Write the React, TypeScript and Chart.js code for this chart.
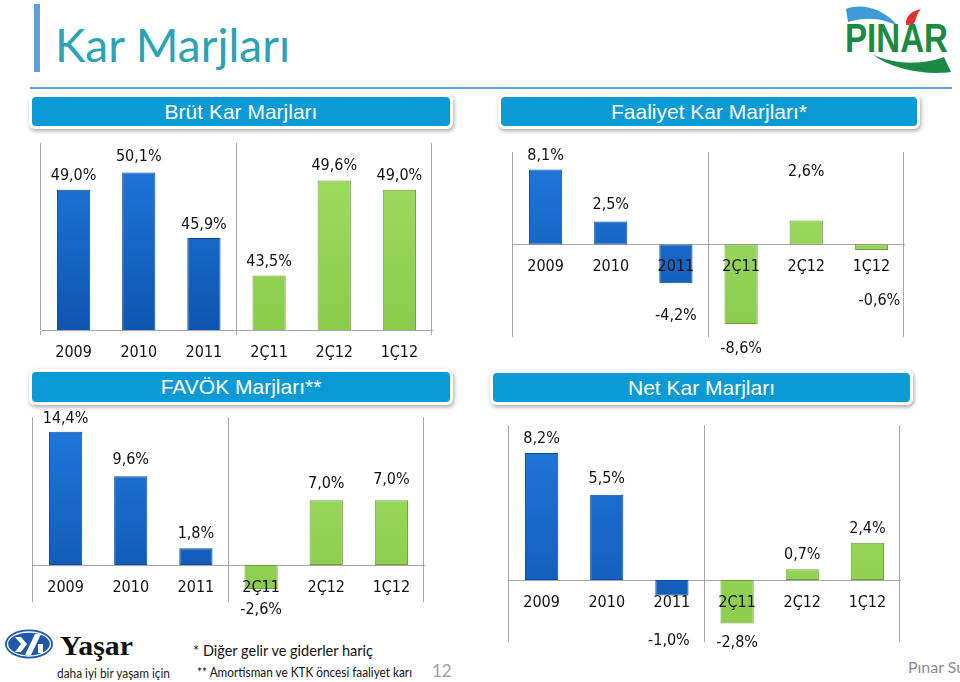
import React, { useEffect, useRef } from 'react';
import { Chart, registerables } from 'chart.js';

Chart.register(...registerables);

// ---------- data ----------
const categories = ['2009', '2010', '2011', '2Ç11', '2Ç12', '1Ç12'];
const brutValues = [49.0, 50.1, 45.9, 43.5, 49.6, 49.0];
const faaliyetValues = [8.1, 2.5, -4.2, -8.6, 2.6, -0.6];
const favokValues = [14.4, 9.6, 1.8, -2.6, 7.0, 7.0];
const netValues = [8.2, 5.5, -1.0, -2.8, 0.7, 2.4];

const brutAxis = [40, 52];
const faaliyetAxis = [-10, 10];
const favokAxis = [-4, 16];
const netAxis = [-4, 10];

const annualCount = 3; // first three categories are years (blue), the rest quarters (green)

// ---------- layout / style ----------
const NUM_FONT = "'Liberation Sans Narrow', 'DejaVu Sans Condensed', Lato, sans-serif";
const brutGaps = [14, 16, 13, 14, 15, 14];
const faaliyetGaps = [14, 17, 32, 25, 49, 51];
const faaliyetShifts = [0, 0, 0, 0, 0, 8];
const favokGaps = [13, 16, 15, 21, 16, 20];
const netGaps = [14, 16, 45, 19, 14, 14];
const netShifts = [0, 0, -3, 0, 0, 0];

const fmt = (v: number) => v.toFixed(1).replace('.', ',') + '%';

const valueLabels = {
  id: 'valueLabels',
  afterDatasetsDraw(chart: any, _args: any, opts: any) {
    const { ctx } = chart;
    const meta = chart.getDatasetMeta(0);
    const values = chart.data.datasets[0].data as number[];
    ctx.save();
    ctx.font = `16px ${NUM_FONT}`;
    ctx.fillStyle = '#111';
    ctx.textAlign = 'center';
    ctx.textBaseline = 'middle';
    meta.data.forEach((bar: any, i: number) => {
      const v = values[i];
      const gap = (opts.gaps && opts.gaps[i]) ?? 15;
      const dx = (opts.shifts && opts.shifts[i]) ?? 0;
      const y = v >= 0 ? bar.y - gap : bar.y + gap;
      ctx.fillText(fmt(v), bar.x + dx, y);
    });
    ctx.restore();
  },
};

function barFill(c: any) {
  const blue = c.dataIndex < annualCount;
  const area = c.chart.chartArea;
  if (!area) return blue ? '#1767CC' : '#8FD14F';
  const g = c.chart.ctx.createLinearGradient(0, area.top, 0, area.bottom);
  if (blue) {
    g.addColorStop(0, '#2279DE');
    g.addColorStop(1, '#0E55B0');
  } else {
    g.addColorStop(0, '#A0DE64');
    g.addColorStop(1, '#8BCC4B');
  }
  return g;
}

const boundaryColor = (c: any) =>
  c.index === undefined || c.index === 0 || c.index === annualCount ? '#A6A6A6' : 'rgba(0,0,0,0)';

type Box = { x: number; y: number; w: number; h: number; pad: { left: number; top: number; right: number; bottom: number } };

function BarPanel({ values, axis, gaps, shifts, box }: { values: number[]; axis: number[]; gaps: number[]; shifts?: number[]; box: Box }) {
  const ref = useRef<HTMLCanvasElement>(null);
  useEffect(() => {
    const chart = new Chart(ref.current as HTMLCanvasElement, {
      type: 'bar',
      data: {
        labels: categories,
        datasets: [
          {
            data: values,
            backgroundColor: barFill as any,
            borderColor: ((c: any) => (c.dataIndex < annualCount ? '#0B4A9C' : '#6E9F3B')) as any,
            borderWidth: 1,
            borderSkipped: false,
            categoryPercentage: 1,
            barPercentage: 0.51,
          },
        ],
      },
      options: {
        responsive: false,
        animation: false,
        layout: { padding: box.pad },
        plugins: {
          legend: { display: false },
          tooltip: { enabled: false },
          valueLabels: { gaps, shifts },
        } as any,
        scales: {
          x: {
            position: { y: axis[0] < 0 ? 0 : axis[0] } as any,
            grid: { offset: true, color: boundaryColor as any, lineWidth: 1, tickLength: 4, drawTicks: true },
            border: { color: '#A6A6A6', width: 1 },
            ticks: { color: '#111', font: { family: NUM_FONT, size: 16 }, padding: 9, z: 1, autoSkip: false, maxRotation: 0 },
          },
          y: { display: false, min: axis[0], max: axis[1] },
        },
      },
      plugins: [valueLabels as any],
    });
    return () => chart.destroy();
  }, []);
  return (
    <canvas
      ref={ref}
      width={box.w}
      height={box.h}
      style={{ position: 'absolute', left: box.x, top: box.y, width: box.w, height: box.h }}
    />
  );
}

function Header({ x, y, w, h, text }: { x: number; y: number; w: number; h: number; text: string }) {
  return (
    <div
      style={{
        position: 'absolute',
        left: x - 3,
        top: y - 3,
        width: w + 6,
        height: h + 6,
        background: '#fff',
        borderRadius: 6,
        boxShadow: '1px 2px 4px rgba(0,0,0,0.35)',
        boxSizing: 'border-box',
        padding: 3,
      }}
    >
      <div
        style={{
          width: '100%',
          height: '100%',
          background: '#0C9AD7',
          borderRadius: 4,
          color: '#fff',
          display: 'flex',
          alignItems: 'center',
          justifyContent: 'center',
          fontFamily: "'Liberation Sans', Arial, sans-serif",
          fontSize: 21,
        }}
      >
        {text}
      </div>
    </div>
  );
}

const boxBrut: Box = { x: 20, y: 135, w: 440, h: 232, pad: { left: 21, top: 8, right: 28, bottom: 37 } };
const boxFaaliyet: Box = { x: 488, y: 135, w: 452, h: 232, pad: { left: 25, top: 17, right: 36, bottom: 30 } };
const boxFavok: Box = { x: 8, y: 404, w: 440, h: 218, pad: { left: 25, top: 13, right: 24, bottom: 20 } };
const boxNet: Box = { x: 488, y: 408, w: 452, h: 254, pad: { left: 21, top: 17, right: 40, bottom: 20 } };

export default function App() {
  return (
    <div style={{ position: 'fixed', left: 0, top: 0, width: 960, height: 682, background: '#fff', overflow: 'hidden' }}>
      <svg width={960} height={682} style={{ position: 'absolute', left: 0, top: 0 }}>
        <rect x={34} y={4} width={6} height={68} fill="#5B9FE5" />
        <text x={55} y={62} fontFamily="Lato, sans-serif" fontSize={46} fill="#2AA3B7">
          Kar Marjları
        </text>
        <rect x={30} y={87} width={922} height={2} fill="#5B9FE5" />
        {/* PINAR logo */}
        <path d="M846 9 C 862 3, 882 8, 897 25 L 885 21 C 872 17, 858 19, 848 22 Z" fill="#3D9BDA" />
        <path d="M906 25 C 905 17, 911 11, 921 9 C 916 14, 917 19, 913 25 Z" fill="#E2312F" />
        <text
          x={845}
          y={52}
          fontFamily="'Liberation Sans', Arial, sans-serif"
          fontWeight="bold"
          fontSize={40}
          fill="#1C8A44"
          textLength={103}
          lengthAdjust="spacingAndGlyphs"
        >
          PINAR
        </text>
        <path d="M872 54 C 896 66, 926 64, 944 57 L 951 72 C 928 75, 894 71, 872 54 Z" fill="#1C8A44" />
        {/* Yaşar logo */}
        <ellipse cx={29} cy={644} rx={24} ry={14.5} fill="#1E5AA9" />
        <ellipse cx={29} cy={644} rx={21.5} ry={12} fill="none" stroke="#fff" strokeWidth={1.3} />
        <path d="M15 637 L21 637 L27 644 L21 652 L15 652 L21 644 Z" fill="#fff" />
        <path d="M35 634 L41 634 L31 655 L25 655 Z" fill="#fff" />
        <path d="M38 644 L43 644 L43 653 L38 653 Z" fill="#fff" />
        <text
          x={60}
          y={655}
          fontFamily="'Liberation Serif', serif"
          fontWeight="bold"
          fontSize={28}
          fill="#111"
          textLength={73}
          lengthAdjust="spacingAndGlyphs"
        >
          Yaşar
        </text>
        <text x={57} y={678} fontFamily="Lato, sans-serif" fontSize={12.5} fill="#222" textLength={113} lengthAdjust="spacingAndGlyphs">
          daha iyi bir yaşam için
        </text>
        {/* footnotes */}
        <text x={193} y={656} fontFamily="Lato, sans-serif" fontSize={15} fill="#111" textLength={180} lengthAdjust="spacingAndGlyphs">
          * Diğer gelir ve giderler hariç
        </text>
        <text x={197} y={677} fontFamily="Lato, sans-serif" fontSize={13.5} fill="#111" textLength={215} lengthAdjust="spacingAndGlyphs">
          ** Amortisman ve KTK öncesi faaliyet karı
        </text>
        <text x={432} y={677} fontFamily="Lato, sans-serif" fontSize={17} fill="#A0A0A0">
          12
        </text>
        <text x={908} y={673} fontFamily="Lato, sans-serif" fontSize={16} fill="#8C8C8C">
          Pınar Su
        </text>
      </svg>

      <Header x={32} y={97} w={418} h={29} text="Brüt Kar Marjları" />
      <Header x={501} y={97} w={416} h={29} text="Faaliyet Kar Marjları*" />
      <Header x={32} y={372} w={418} h={30} text="FAVÖK Marjları**" />
      <Header x={493} y={373} w={417} h={29} text="Net Kar Marjları" />

      <BarPanel values={brutValues} axis={brutAxis} gaps={brutGaps} box={boxBrut} />
      <BarPanel values={faaliyetValues} axis={faaliyetAxis} gaps={faaliyetGaps} shifts={faaliyetShifts} box={boxFaaliyet} />
      <BarPanel values={favokValues} axis={favokAxis} gaps={favokGaps} box={boxFavok} />
      <BarPanel values={netValues} axis={netAxis} gaps={netGaps} shifts={netShifts} box={boxNet} />
    </div>
  );
}
